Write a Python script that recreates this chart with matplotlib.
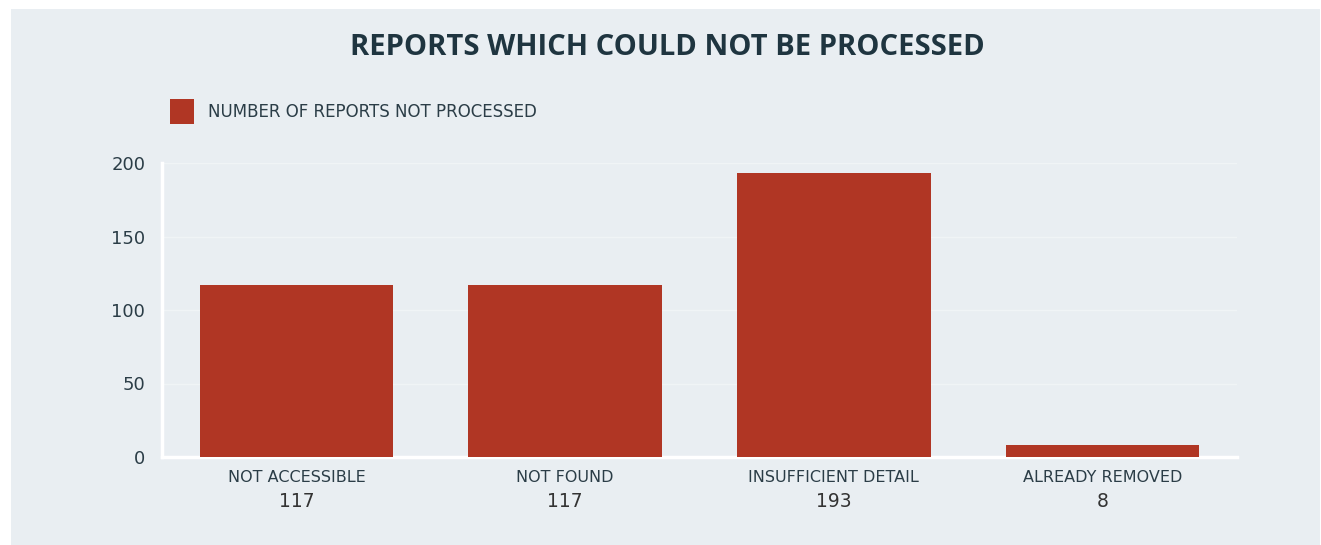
import matplotlib.pyplot as plt
import matplotlib.patches as mpatches
import numpy as np

# data
categories = ['NOT ACCESSIBLE', 'NOT FOUND', 'INSUFFICIENT DETAIL', 'ALREADY REMOVED']
values = [117, 117, 193, 8]
yticks = [0, 50, 100, 150, 200]
series_name = 'NUMBER OF REPORTS NOT PROCESSED'

bar_color = '#b03624'
panel_color = '#e9eef2'
text_color = '#2b3d47'

fig = plt.figure(figsize=(13.21, 5.45), dpi=100)
fig.patch.set_facecolor('white')

# light panel behind the chart
W, H = 1321, 545
fig.patches.append(mpatches.Rectangle((11 / W, 0), (1320 - 11) / W, (545 - 9) / H,
                                      transform=fig.transFigure, facecolor=panel_color,
                                      edgecolor='none', zorder=-10))

ax = fig.add_axes([162 / W, (545 - 457) / H, (1237 - 162) / W, (457 - 163) / H])
ax.patch.set_alpha(0)

x = np.arange(len(categories))
ax.bar(x, values, width=0.72, color=bar_color, zorder=3)

ax.set_xlim(-0.5, len(categories) - 0.5)
ax.set_ylim(0, 200)
ax.set_yticks(yticks)
ax.set_yticklabels([str(t) for t in yticks], fontsize=13, color=text_color)
ax.tick_params(axis='y', length=0, pad=12)
ax.tick_params(axis='x', length=0)
ax.set_xticks(x)
ax.set_xticklabels([])
ax.grid(axis='y', color='#f0f4f6', linewidth=1, zorder=0)

for s in ['top', 'right']:
    ax.spines[s].set_visible(False)
for s in ['left', 'bottom']:
    ax.spines[s].set_color('white')
    ax.spines[s].set_linewidth(2.5)

# category labels and values under the axis
for xi, cat, v in zip(x, categories, values):
    ax.annotate(cat, (xi, 0), xytext=(0, -15), textcoords='offset points',
                ha='center', va='center', fontsize=11.5, color=text_color)
    ax.annotate(str(v), (xi, 0), xytext=(0, -32), textcoords='offset points',
                ha='center', va='center', fontsize=13.5, color='#333333')

# title
fig.text(667 / W, 1 - 47 / H, 'REPORTS WHICH COULD NOT BE PROCESSED',
         ha='center', va='center', fontsize=21, fontweight='bold',
         color='#1f3540', family='Open Sans')

# legend
fig.patches.append(mpatches.Rectangle((170 / W, 1 - 124 / H), 24 / W, 25 / H,
                                      transform=fig.transFigure, facecolor=bar_color,
                                      edgecolor='none'))
fig.text(208 / W, 1 - 112 / H, series_name, ha='left', va='center',
         fontsize=12, color=text_color, family='DejaVu Sans')

fig.savefig('out.png', dpi=100, facecolor='white')
